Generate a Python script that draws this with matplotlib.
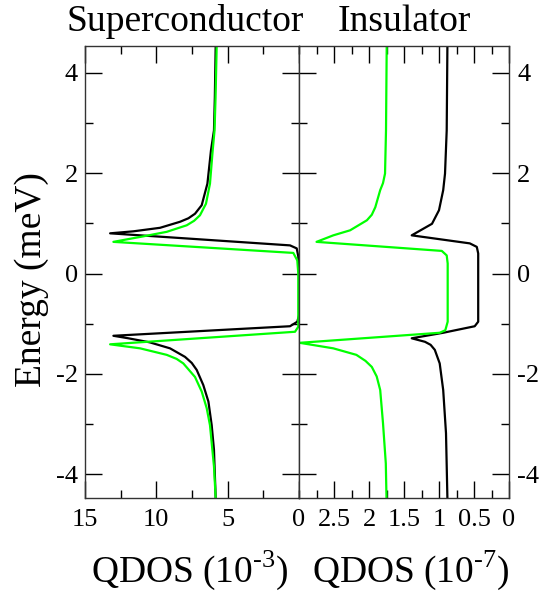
import numpy as np
import matplotlib
matplotlib.use("Agg")
import matplotlib.pyplot as plt
from matplotlib.ticker import MultipleLocator

plt.rcParams['font.family'] = ['Liberation Serif', 'DejaVu Serif']
plt.rcParams['mathtext.fontset'] = 'custom'
plt.rcParams['mathtext.rm'] = 'Liberation Serif'
plt.rcParams['axes.unicode_minus'] = False

# Superconductor panel (QDOS in 1e-3), energy in meV
sc_black_e = [4.53, 3.5, 2.85, 2.45, 1.79, 1.36, 1.19, 1.10, 1.03, 0.91, 0.84, 0.80, 0.56, 0.50, 0.34, 0.0,
              -0.83, -0.96, -1.05, -1.24, -1.29, -1.37, -1.49, -1.66, -1.78, -1.92, -2.22, -2.55, -3.02,
              -3.51, -4.47]
sc_black_q = [5.84, 5.90, 5.96, 6.17, 6.42, 6.82, 7.29, 7.75, 8.34, 9.74, 11.61, 13.24, 0.63, 0.16, 0.05, 0.0,
              0.0, 0.12, 0.63, 13.01, 11.96, 10.47, 9.04, 7.99, 7.52, 7.17, 6.71, 6.35, 6.12,
              5.96, 5.84]
sc_green_e = [4.53, 3.5, 2.85, 2.45, 1.79, 1.39, 1.16, 1.05, 0.96, 0.83, 0.74, 0.63, 0.41, 0.26, 0.0,
              -1.06, -1.16, -1.41, -1.49, -1.62, -1.70, -1.79, -2.06, -2.35, -2.68, -3.02, -3.84, -4.47]
sc_green_q = [5.77, 5.85, 5.92, 6.05, 6.24, 6.52, 6.94, 7.35, 7.87, 9.27, 10.91, 13.01, 0.40, 0.12, 0.05,
              0.05, 0.28, 13.24, 11.14, 9.27, 8.58, 8.11, 7.29, 6.82, 6.47, 6.24, 5.96, 5.84]

# Insulator panel (QDOS in 1e-7)
ins_black_e = [4.53, 2.85, 1.99, 1.66, 1.26, 0.99, 0.76, 0.60, 0.53, 0.40, 0.0,
               -0.96, -1.05, -1.18, -1.29, -1.36, -1.42, -1.52, -1.79, -2.32, -3.18, -4.47]
ins_black_q = [0.88, 0.89, 0.914, 0.94, 1.0, 1.10, 1.39, 0.56, 0.46, 0.44, 0.44,
               0.44, 0.49, 0.94, 1.39, 1.2, 1.12, 1.06, 0.99, 0.94, 0.90, 0.88]
ins_green_e = [4.53, 2.85, 1.99, 1.80, 1.66, 1.32, 1.17, 1.06, 0.86, 0.76, 0.63, 0.45, 0.36, 0.20, 0.0,
               -0.96, -1.13, -1.18, -1.38, -1.49, -1.62, -1.74, -1.86, -2.05, -2.32, -2.98, -3.78, -4.47]
ins_green_q = [1.747, 1.757, 1.771, 1.80, 1.84, 1.91, 1.96, 2.03, 2.27, 2.51, 2.75, 0.96, 0.89, 0.876, 0.876,
               0.876, 0.91, 0.99, 2.99, 2.51, 2.18, 2.05, 1.96, 1.89, 1.84, 1.80, 1.76, 1.75]

green = '#00ff00'
lw = 1.6

fig = plt.figure(figsize=(5.52, 5.95), dpi=100)
ax1 = fig.add_axes([85 / 552, 97 / 595, 214 / 552, 452 / 595])
ax2 = fig.add_axes([299 / 552, 97 / 595, 210 / 552, 452 / 595])

style = dict(lw=lw, solid_joinstyle='round', solid_capstyle='round')
ax1.plot(sc_black_q, sc_black_e, color='black', **style)
ax1.plot(sc_green_q, sc_green_e, color=green, **style)
ax2.plot(ins_black_q, ins_black_e, color='black', **style)
ax2.plot(ins_green_q, ins_green_e, color=green, **style)

ax1.set_xlim(15, 0)
ax2.set_xlim(3, 0)
for ax in (ax1, ax2):
    ax.set_ylim(-4.47, 4.53)
    ax.yaxis.set_major_locator(MultipleLocator(2))
    ax.yaxis.set_minor_locator(MultipleLocator(1))
    ax.tick_params(which='both', direction='in', top=True, bottom=True,
                   left=True, right=True, labelsize=19, width=1)
    ax.tick_params(which='major', length=12)
    ax.tick_params(which='minor', length=6)
    ax.tick_params(axis='x', pad=8)
    for s in ax.spines.values():
        s.set_linewidth(1.0)
        s.set_color('#333333')

ax1.xaxis.set_minor_locator(MultipleLocator(2.5))
ax2.xaxis.set_minor_locator(MultipleLocator(0.25))
ax1.set_xticks([15, 10, 5, 0])
ax1.set_xticklabels(['15', '10', '5', '0'])
ax2.set_xticks([2.5, 2, 1.5, 1, 0.5, 0])
ax2.set_xticklabels(['2.5', '2', '1.5', '1', '0.5', '0'])

ax1.tick_params(axis='y', labelleft=True, labelright=False, pad=5)
ax2.tick_params(axis='y', labelleft=False, labelright=True, pad=6)

ax1.set_title('Superconductor', fontsize=27, pad=11, x=0.467)
ax2.set_title('Insulator', fontsize=27, pad=11)

fig.text(190 / 552, 13 / 595, 'QDOS (10$^{\u20103}$)', fontsize=27,
         ha='center', va='baseline')
fig.text(411 / 552, 13 / 595, 'QDOS (10$^{\u20107}$)', fontsize=27,
         ha='center', va='baseline')
fig.text(32 / 552, 1 - 280 / 595, 'Energy (meV)', fontsize=27, rotation=90,
         ha='center', va='center')

fig.savefig('out.png', dpi=100)
